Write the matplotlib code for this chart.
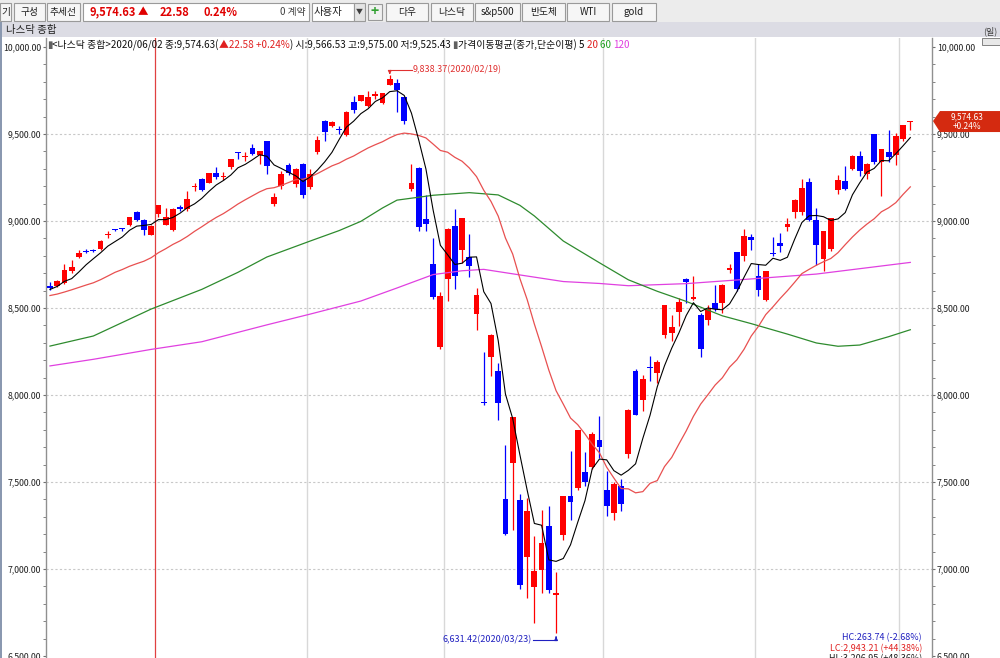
import matplotlib
matplotlib.use("Agg")
import matplotlib.pyplot as plt
from matplotlib.patches import Rectangle, Polygon
from matplotlib.ticker import MultipleLocator
import numpy as np
import pandas as pd

plt.rcParams['font.family'] = ['Noto Sans CJK KR', 'DejaVu Sans']

# trading days, Dec 10 2019 .. Jun 2 2020
holidays = ['2019-12-25', '2020-01-01', '2020-01-20', '2020-02-17', '2020-04-10', '2020-05-25']
dates = pd.bdate_range('2019-12-10', '2020-06-02').drop(pd.to_datetime(holidays))

opens = [8625, 8628, 8643, 8710, 8795, 8830, 8835, 8840, 8917, 8950,
         8956, 8975, 9052, 9008, 8921, 9043, 8979, 8946, 9078, 9068,
         9198, 9242, 9221, 9275, 9255, 9308, 9395, 9366, 9420, 9380,
         9459, 9096, 9199, 9323, 9214, 9325, 9195, 9395, 9575, 9548,
         9525, 9495, 9682, 9691, 9660, 9720, 9678, 9781, 9796, 9710,
         9185, 9303, 9013, 8750, 8278, 8668, 8971, 8833, 8793, 8467,
         7957, 8219, 8136, 7401, 7609, 7398, 7071, 6899, 6995, 7248,
         6850, 7193, 7418, 7465, 7555, 7586, 7739, 7455, 7321, 7478,
         7662, 8136, 7973, 8160, 8126, 8347, 8356, 8475, 8667, 8552,
         8462, 8429, 8529, 8529, 8716, 8820, 8797, 8908, 8682, 8548,
         8815, 8873, 8967, 9050, 9050, 9222, 9008, 8783, 8839, 9176,
         9228, 9301, 9375, 9272, 9500, 9337, 9395, 9381, 9471, 9566.53]
highs = [8650, 8660, 8752, 8775, 8836, 8838, 8840, 8890, 8940, 8956,
         8958, 9023, 9056, 9010, 8975, 9093, 9072, 9072, 9092, 9174,
         9218, 9250, 9275, 9308, 9280, 9357, 9397, 9395, 9440, 9403,
         9460, 9160, 9290, 9335, 9305, 9335, 9300, 9487, 9580, 9575,
         9545, 9630, 9716, 9727, 9745, 9745, 9735, 9838.37, 9815, 9712,
         9325, 9313, 9150, 8904, 8590, 8960, 9071, 9019, 8923, 8616,
         8246, 8348, 8181, 7714, 7875, 7430, 7407, 7187, 7340, 7359,
         6985, 7419, 7676, 7800, 7670, 7790, 7881, 7561, 7500, 7515,
         7920, 8150, 8117, 8226, 8200, 8520, 8461, 8557, 8672, 8686,
         8471, 8520, 8634, 8640, 8752, 8822, 8956, 8925, 8750, 8711,
         8908, 8930, 9020, 9126, 9241, 9247, 9075, 8944, 9017, 9266,
         9318, 9380, 9400, 9333, 9501, 9412, 9525, 9506, 9553, 9575.00]
lows = [8605, 8620, 8636, 8700, 8790, 8815, 8822, 8836, 8905, 8940,
        8945, 8970, 9000, 8917, 8917, 9024, 8975, 8943, 9059, 9060,
        9175, 9170, 9220, 9240, 9235, 9300, 9355, 9345, 9380, 9330,
        9270, 9088, 9185, 9265, 9195, 9130, 9185, 9385, 9460, 9540,
        9500, 9490, 9620, 9690, 9655, 9700, 9675, 9780, 9628, 9560,
        9175, 8945, 8940, 8550, 8264, 8543, 8608, 8760, 8678, 8376,
        7943, 8108, 7858, 7195, 7225, 6887, 6831, 6688, 6860, 6860,
        6631.42, 7165, 7282, 7455, 7475, 7575, 7638, 7302, 7280, 7333,
        7640, 7885, 7906, 8078, 8070, 8330, 8308, 8394, 8529, 8545,
        8218, 8400, 8480, 8470, 8700, 8600, 8768, 8831, 8570, 8543,
        8800, 8820, 8945, 9018, 9035, 9000, 8749, 8711, 8825, 9156,
        9180, 9295, 9256, 9240, 9330, 9142, 9337, 9324, 9460, 9525.43]
closes = [8616, 8654, 8717, 8735, 8814, 8823, 8828, 8887, 8925, 8946,
          8953, 9022, 9007, 8946, 8973, 9092, 9021, 9071, 9069, 9129,
          9203, 9179, 9274, 9251, 9259, 9357, 9389, 9371, 9384, 9402,
          9315, 9139, 9270, 9275, 9299, 9151, 9273, 9468, 9509, 9572,
          9521, 9628, 9639, 9726, 9712, 9731, 9733, 9817, 9751, 9577,
          9221, 8966, 8981, 8566, 8567, 8952, 8684, 9018, 8739, 8576,
          7951, 8344, 7952, 7202, 7875, 6905, 7335, 6990, 7151, 6880,
          6861, 7418, 7384, 7798, 7502, 7774, 7700, 7361, 7487, 7373,
          7913, 7887, 8091, 8154, 8192, 8516, 8393, 8532, 8650, 8561,
          8263, 8495, 8495, 8635, 8730, 8608, 8915, 8890, 8605, 8711,
          8809, 8854, 8980, 9121, 9192, 9003, 8863, 8944, 9015, 9235,
          9185, 9376, 9285, 9325, 9340, 9412, 9369, 9490, 9552.05, 9574.63]
# closes of the 19 sessions before the first candle (feed the 5 / 20 day averages)
prev_closes = [8486, 8482, 8479, 8540, 8549, 8571, 8527, 8506, 8520, 8632,
               8648, 8705, 8665, 8568, 8521, 8567, 8571, 8657, 8622]

# 60 / 120 day averages at some candles
ma60_at = [0, 6, 14, 21, 26, 30, 36, 40, 43, 46, 48, 53, 58, 62, 65, 67, 71, 76, 80, 84, 88, 93,
           97, 102, 106, 109, 112, 116, 119]
ma60 = [8281, 8339, 8494, 8607, 8705, 8793, 8885, 8945, 8998, 9075, 9120, 9148, 9163, 9150, 9090,
        9029, 8885, 8760, 8662, 8596, 8538, 8455, 8410, 8350, 8299, 8280, 8287, 8335, 8375]
ma120_at = [0, 6, 14, 21, 30, 36, 43, 48, 53, 57, 60, 65, 71, 76, 80, 88, 97, 106, 119]
ma120 = [8167, 8205, 8262, 8306, 8403, 8465, 8540, 8615, 8692, 8714, 8722, 8690, 8652, 8641, 8628,
         8640, 8667, 8695, 8762]

W, H = 1000, 658
fig = plt.figure(figsize=(W / 100, H / 100), dpi=100)
fig.patch.set_facecolor('white')


def box(x, y, w, h, fc, ec='none', lw=0.8, z=1):
    r = Rectangle((x / W, 1 - (y + h) / H), w / W, h / H, transform=fig.transFigure,
                  fc=fc, ec=ec, lw=lw, zorder=z)
    fig.add_artist(r)


def txt(x, y, s, **kw):
    kw.setdefault('fontsize', 7)
    kw.setdefault('va', 'center')
    return fig.text(x / W, 1 - y / H, s, **kw)


# ---- chart ----
ax = fig.add_axes([46 / W, 0, 886 / W, 620 / H])
n = len(closes)
x = np.arange(n)
o = np.array(opens)
c = np.array(closes)
up = c >= o
cols = np.where(up, '#ff0000', '#0000ff')

for v in range(7000, 10000, 500):
    ax.axhline(v, color='#c8c8c8', lw=0.8, ls=(0, (2, 2)), zorder=0)

months = pd.Series(dates.month)
for i in range(1, n):
    if dates[i].year != dates[i - 1].year:
        ax.axvline(i - 0.5, color='#e04040', lw=0.9, zorder=0)
    elif months[i] != months[i - 1]:
        ax.axvline(i - 0.5, color='#d8d8d8', lw=1.0, zorder=0)

ax.vlines(x, lows, highs, colors=cols, lw=0.9, zorder=2)
body = np.maximum(np.abs(c - o), 6)
ax.bar(x, body, bottom=np.minimum(o, c), width=0.8, color=cols, zorder=3)

allc = pd.Series(prev_closes + closes)
ma5 = allc.rolling(5).mean().iloc[len(prev_closes):].values
ma20 = allc.rolling(20).mean().iloc[len(prev_closes):].values
ax.plot(ma120_at, ma120, color='#e040e0', lw=0.9, zorder=4)
ax.plot(ma60_at, ma60, color='#2e8b2e', lw=0.9, zorder=4)
ax.plot(x, ma20, color='#e85050', lw=0.9, zorder=4)
ax.plot(x, ma5, color='#000000', lw=0.8, zorder=4)

# high / low markers
hi_i = int(np.argmax(highs))
lo_i = int(np.argmin(lows))
hy = highs[hi_i] + 32
ax.plot([hi_i, hi_i + 3.1], [hy, hy], color='#e03030', lw=0.8, zorder=5)
ax.annotate('', xy=(hi_i, highs[hi_i] + 4), xytext=(hi_i, hy),
            arrowprops=dict(arrowstyle='-|>', color='#e03030', lw=0.8, mutation_scale=5))
ax.text(hi_i + 3.2, hy, f"{highs[hi_i]:,.2f}({dates[hi_i]:%Y/%m/%d})", color='#e03030',
        fontsize=6.5, va='center', ha='left')
ly = lows[lo_i] - 40
ax.plot([lo_i - 3.2, lo_i], [ly, ly], color='#2020c0', lw=0.8, zorder=5)
ax.annotate('', xy=(lo_i, lows[lo_i] - 4), xytext=(lo_i, ly),
            arrowprops=dict(arrowstyle='-|>', color='#2020c0', lw=0.8, mutation_scale=5))
ax.text(lo_i - 3.3, ly, f"{lows[lo_i]:,.2f}({dates[lo_i]:%Y/%m/%d})", color='#2020c0',
        fontsize=6.5, va='center', ha='right')

ax.set_xlim(-0.55, 122.0)
ax.set_ylim(6488, 10052)
ax.set_yticks(np.arange(6500, 10001, 500))
ax.set_yticklabels([f"{v:,.2f}" for v in np.arange(6500, 10001, 500)])
ax.yaxis.set_minor_locator(MultipleLocator(100))
ax.tick_params(axis='y', which='both', left=True, right=True, labelleft=True, labelright=True,
               direction='out', color='#707070', labelsize=6.3, pad=1, labelcolor='#202020')
ax.tick_params(axis='y', which='both', length=2.5)
ax.set_xticks([])
for s in ['top', 'bottom']:
    ax.spines[s].set_visible(False)
for s in ['left', 'right']:
    ax.spines[s].set_color('#909090')
    ax.spines[s].set_linewidth(1.0)

# ---- header of the chart ----
ren = fig.canvas.get_renderer()
chg = closes[-1] - closes[-2]
pct = chg / closes[-2] * 100
pieces = [("▮", '#606060'),
          (f"<나스닥 종합>{dates[-1]:%Y/%m/%d} 종:{closes[-1]:,.2f}(", '#101010'),
          (f"▲{chg:.2f} +{pct:.2f}%", '#e02020'),
          (f") 시:{opens[-1]:,.2f} 고:{highs[-1]:,.2f} 저:{lows[-1]:,.2f} ", '#101010'),
          ("▮", '#606060'),
          ("가격이동평균(종가,단순이평) ", '#101010'),
          ("5 ", '#000000'), ("20 ", '#e02020'), ("60 ", '#20a020'), ("120", '#e040e0')]
cx = 47
for s, col in pieces:
    t = txt(cx, 45, s, color=col, fontsize=7.1)
    cx += t.get_window_extent(ren).width

# price tag on the right axis
yp = ax.transData.transform((0, closes[-1]))[1]
ty = H - yp
tag = Polygon([(933 / W, 1 - ty / H), (940 / W, 1 - (ty - 10) / H), (1.0, 1 - (ty - 10) / H),
               (1.0, 1 - (ty + 11) / H), (940 / W, 1 - (ty + 11) / H)],
              closed=True, transform=fig.transFigure, fc='#d42a10', ec='none', zorder=5)
fig.add_artist(tag)
txt(967, ty - 4, f"{closes[-1]:,.2f}", color='white', fontsize=6, ha='center', zorder=6)
txt(967, ty + 5, f"+{pct:.2f}%", color='white', fontsize=6, ha='center', zorder=6)

txt(990, 31, "(일)", color='#404040', fontsize=6.5, ha='center')
box(982, 38, 18, 7, '#e8e8e8', ec='#707070', lw=0.6)

# statistics, bottom right
hc = highs[hi_i] - closes[-1]
lc = closes[-1] - lows[lo_i]
hl = highs[hi_i] - lows[lo_i]
txt(922, 638, f"HC:{hc:,.2f} ({-hc / highs[hi_i] * 100:.2f}%)", color='#2020c0', fontsize=6.5, ha='right')
txt(922, 649, f"LC:{lc:,.2f} (+{lc / lows[lo_i] * 100:.2f}%)", color='#e02020', fontsize=6.5, ha='right')
txt(922, 659, f"HL:{hl:,.2f} (+{hl / lows[lo_i] * 100:.2f}%)", color='#202020', fontsize=6.5, ha='right')

# ---- toolbar & title bar ----
box(0, 0, 1000, 22, '#ececec', z=0)
box(0, 22, 1000, 15, '#dcdce4', z=0)
box(0, 22, 2, 636, '#8a98b0', z=0)
txt(6, 29.5, "나스닥 종합", color='#202020', fontsize=7.5)

buttons = [(0, 11, "기"), (14, 31, "구성"), (47, 33, "추세선"),
           (386, 42, "다우"), (431, 42, "나스닥"), (475, 45, "s&p500"),
           (522, 43, "반도체"), (567, 42, "WTI"), (612, 44, "gold")]
for bx, bw, lab in buttons:
    box(bx, 3, bw, 18, '#f6f6f6', ec='#9a9a9a', lw=0.8, z=1)
    txt(bx + bw / 2, 12, lab, color='#202020', fontsize=7, ha='center')

box(83, 3, 226, 18, 'white', ec='#9a9a9a', lw=0.8, z=1)
txt(89, 12, f"{closes[-1]:,.2f}", color='#e00000', fontsize=8, fontweight='bold')
txt(138, 12, "▲", color='#e00000', fontsize=7.5)
txt(160, 12, f"{chg:.2f}", color='#e00000', fontsize=8, fontweight='bold')
txt(203, 12, f"{pct:.2f}%", color='#e00000', fontsize=8, fontweight='bold')
txt(306, 12, "0 계약", color='#404040', fontsize=7, ha='right')
box(312, 3, 42, 18, 'white', ec='#9a9a9a', lw=0.8, z=1)
txt(314, 12, "사용자", color='#202020', fontsize=7.5)
box(354, 3, 11, 18, '#e4e4e4', ec='#9a9a9a', lw=0.8, z=1)
txt(359.5, 12, "▼", color='#404040', fontsize=5, ha='center')
box(368, 4, 14, 16, '#f0f0f0', ec='#9a9a9a', lw=0.8, z=1)
txt(375, 12, "+", color='#30a030', fontsize=10, fontweight='bold', ha='center')

fig.savefig('out.png', dpi=100)
